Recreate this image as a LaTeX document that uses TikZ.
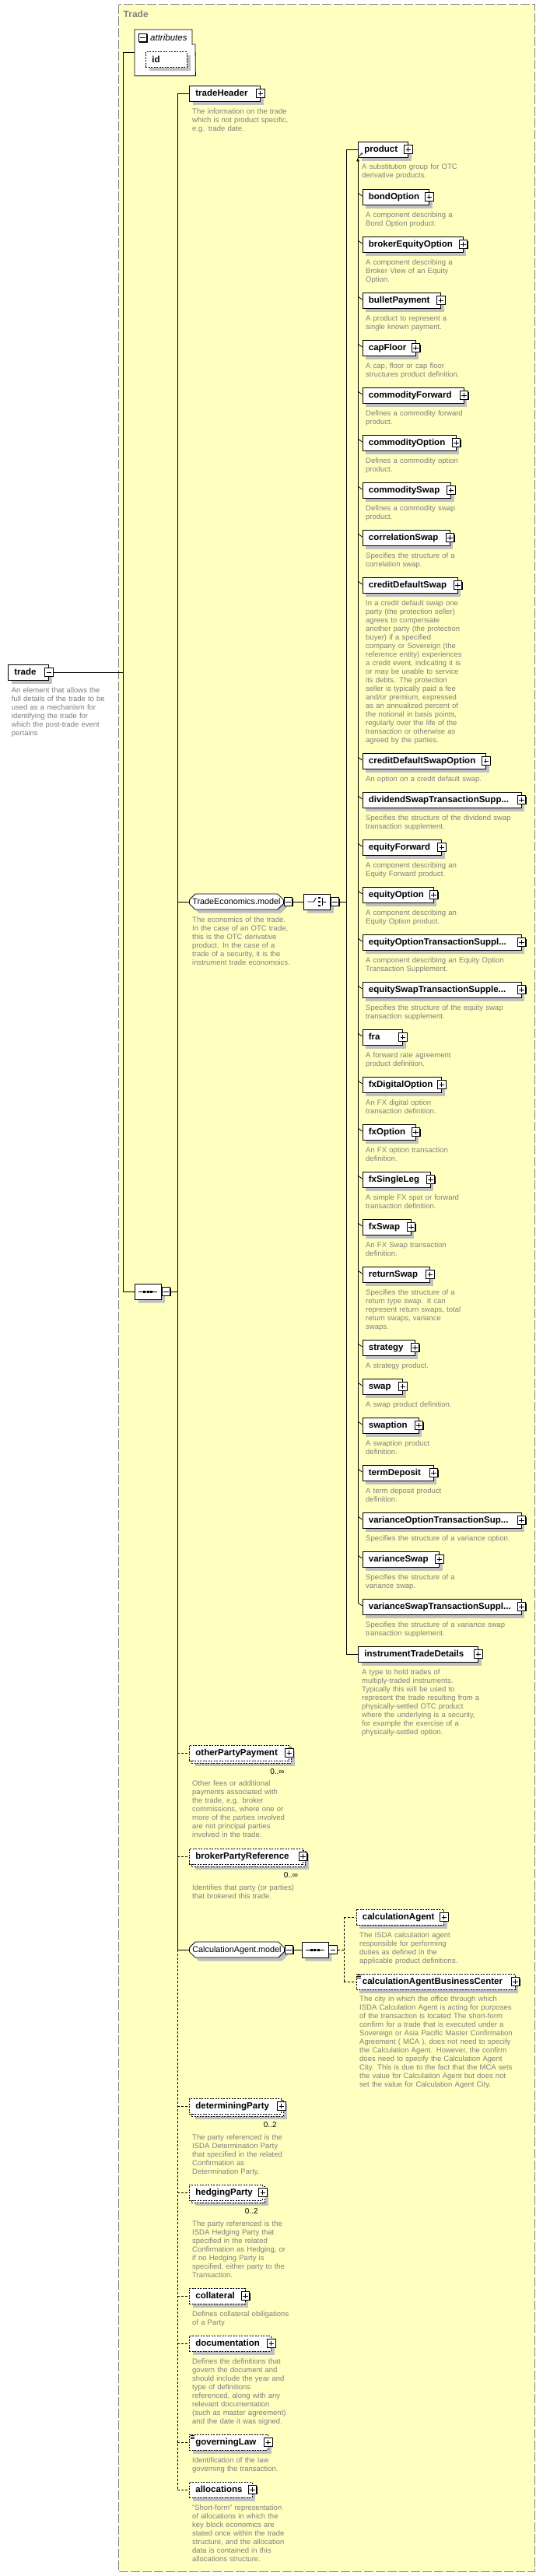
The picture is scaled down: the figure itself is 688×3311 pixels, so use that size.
\documentclass[tikz,border=0pt]{standalone}
\usepackage{fontspec}
\setmainfont{Liberation Sans}
\usetikzlibrary{shapes.misc,shadows,arrows.meta,calc}

\definecolor{framefill}{HTML}{FFFFC0}
\definecolor{framegray}{HTML}{808080}
\definecolor{descgray}{HTML}{808080}
\definecolor{shadowgray}{HTML}{C0C0C0}

\newcommand{\labfont}{\fontsize{11.5}{13}\selectfont\bfseries}
\newcommand{\descfont}{\fontsize{9.5}{11}\selectfont}
\newcommand{\grpfont}{\fontsize{10.8}{13}\selectfont}
\newcommand{\multfont}{\fontsize{10}{12}\selectfont}
\newcommand{\titfont}{\fontsize{12}{14}\selectfont\bfseries}
\newcommand{\attrfont}{\fontsize{11.5}{13}\selectfont\itshape}

\pgfdeclarelayer{frame}
\pgfdeclarelayer{back}
\pgfsetlayers{frame,back,main}

\tikzset{
  conn/.style={line width=.8pt},
  optline/.style={dash pattern=on 2pt off 1.5pt},
  optconn/.style={line width=.8pt, dash pattern=on 3pt off 2pt},
  gshadow/.style={drop shadow={shadow xshift=4.5pt, shadow yshift=-4.5pt, fill=shadowgray, opacity=1}},
  bshadow/.style={drop shadow={shadow xshift=1.2pt, shadow yshift=-1.2pt, fill=black, opacity=1}},
  box/.style={draw, fill=white, line width=.8pt, anchor=west, minimum height=20pt, inner xsep=8pt, inner ysep=0pt, text width=#1, align=left, text height=9pt, text depth=2pt, font=\labfont},
  elem/.style={box=#1, gshadow},
  optelem/.style={box=#1, optline, gshadow},
  multielem/.style={box=#1, optline},
  group/.style={chamfered rectangle, chamfered rectangle xsep=4pt, draw, fill=white, line width=.8pt, anchor=west, minimum width=#1, minimum height=20pt, inner sep=0pt, text height=8.5pt, text depth=2pt, font=\grpfont, gshadow},
  comp/.style={chamfered rectangle, chamfered rectangle xsep=6pt, draw, fill=white, line width=.8pt, anchor=west, minimum width=34pt, minimum height=20pt, inner sep=0pt, gshadow},
  btn/.style={draw, fill=white, line width=.8pt, minimum size=10.5pt, inner sep=0pt, bshadow},
  plus/.style={btn, path picture={\draw[line width=.8pt] ([xshift=2pt]path picture bounding box.west) -- ([xshift=-2pt]path picture bounding box.east) ([yshift=-2pt]path picture bounding box.north) -- ([yshift=2pt]path picture bounding box.south);}},
  minus/.style={btn, path picture={\draw[line width=.8pt] ([xshift=2pt]path picture bounding box.west) -- ([xshift=-2pt]path picture bounding box.east);}},
  desc/.style={anchor=base west, inner sep=0pt, text width=250pt, align=left, font=\descfont, text=descgray},
  mult/.style={anchor=base east, inner sep=0pt, font=\multfont},
}

\begin{document}
\begin{tikzpicture}[x=1pt, y=-1pt]
\useasboundingbox (0,0) rectangle (688,3311);

\def\MEMBER#1#2#3#4#5{%
  \node[elem=#4] (#1) at (465.5,#3) {#2};
  \node[plus] (#1B) at (#1.east) {};
  \draw[conn] (product.south west |- #1.west) ++(0,-5) -- ([yshift=1pt]#1.west);
  \node[desc] (#1D) at (470,#3+26.5) {#5};
}
\def\SEQSYM#1{%
  \draw[conn] ([xshift=-12pt]#1.center) -- ([xshift=12pt]#1.center);
  \foreach \dx in {-4.5,0,4.5}
    \fill ([xshift=\dx pt]#1.center) ++(-1.5pt,-1.5pt) rectangle ++(3pt,3pt);
}
\def\SIMPLE#1{%
  \foreach \dy in {2,3.7,5.4}
    \draw[line width=.5pt] ([shift={(1.5pt,-\dy pt)}]#1.north west) -- ++(5pt,0pt);
}

% frame
\begin{pgfonlayer}{frame}
  \fill[white] (0,0) rectangle (688,3311);
  \draw[framegray, fill=framefill, line width=.8pt, dash pattern=on 12pt off 3pt] (152.5,5.5) rectangle (687,3305);
\end{pgfonlayer}
\node[anchor=base west, inner sep=0pt, text=framegray, font=\titfont] (title) at (158.5,23) {Trade};

\coordinate (s1) at (158,0);
\coordinate (s2) at (228,0);
\coordinate (s3) at (445,0);
\coordinate (s4) at (442,0);

% root
\node[elem=36pt] (trade) at (10,864) {trade};
\node[minus] (tradeB) at (trade.east) {};
\node[desc] (tradeD) at (14.7,890.5) {An element that allows the\\full details of the trade to be\\used as a mechanism for\\identifying the trade for\\which the post-trade event\\pertains};

% attributes
\node[anchor=north west, minimum width=78pt, minimum height=59pt, inner sep=0pt] (attr) at (173,38) {};
\draw[conn, fill=white] (attr.north west) -- (247,38) -- (247,57) -- (251,57) -- (attr.south east) -- (attr.south west) -- cycle;
\node[minus] (attrB) at (183.5,48.5) {};
\node[anchor=base west, inner sep=0pt, font=\attrfont] (attrL) at (193,52.5) {attributes};
\node[optelem=37pt] (id) at (187,76.5) {id};

% main sequence
\node[comp] (mainSeq) at (173,1660) {};
\node[minus, anchor=west] (mainSeqB) at (mainSeq.east) {};
\SEQSYM{mainSeq}

\draw[conn] (tradeB.east) -- (s1 |- tradeB.east);
\draw[conn] (s1 |- attr.west) -- (attr.west);
\draw[conn] (s1 |- attr.west) -- (s1 |- mainSeq.west) -- (mainSeq.west);
\draw[conn] (mainSeqB.east) -- (s2 |- mainSeqB.east);

% children of the sequence
\node[elem=75pt] (tradeHeader) at (243,120) {tradeHeader};
\node[plus] (tradeHeaderB) at (tradeHeader.east) {};
\node[desc] (tradeHeaderD) at (247,146.5) {The information on the trade\\which is not product specific,\\e.g. trade date.};

\node[group=121pt] (tradeEcon) at (243,1159) {TradeEconomics.model};
\node[minus, anchor=west] (tradeEconB) at (tradeEcon.east) {};
\node[desc] (tradeEconD) at (247,1185.5) {The economics of the trade.\\In the case of an OTC trade,\\this is the OTC derivative\\product. In the case of a\\trade of a security, it is the\\instrument trade economoics.};

\node[comp] (choice) at (390,1159) {};
\node[minus, anchor=west] (choiceB) at (choice.east) {};
\draw[conn] ($(choice.center)+(-12,0)$) -- ($(choice.center)+(-4,0)$) -- ($(choice.center)+(-1,-5)$);
\foreach \dy in {-5,0,5}
  \fill ($(choice.center)+(3,\dy)$) ++(-1.2pt,-1.2pt) rectangle ++(2.4pt,2.4pt);
\draw[conn] ($(choice.center)+(6.5,-5)$) -- ($(choice.center)+(6.5,5)$) ($(choice.center)+(6.5,0)$) -- ($(choice.center)+(12,0)$);
\draw[conn] (tradeEconB.east) -- (choice.west);
\draw[conn] (choiceB.east) -- (s3 |- choiceB.east);

% choice
\node[elem=48pt] (product) at (460,192) {product};
\node[plus] (productB) at (product.east) {};
\draw[line width=.6pt, -{Stealth[length=2.5pt,width=2.5pt]}] ([shift={(1.5pt,1.5pt)}]product.south west) -- ++(4.5pt,4.5pt);
\node[desc] (productD) at (465,217.5) {A substitution group for OTC\\derivative products.};

\MEMBER{bondOption}{bondOption}{253}{69.5pt}{A component describing a\\Bond Option product.}
\MEMBER{brokerEquityOption}{brokerEquityOption}{314}{113pt}{A component describing a\\Broker View of an Equity\\Option.}
\MEMBER{bulletPayment}{bulletPayment}{386}{84.5pt}{A product to represent a\\single known payment.}
\MEMBER{capFloor}{capFloor}{447}{52pt}{A cap, floor or cap floor\\structures product definition.}
\MEMBER{commodityForward}{commodityForward}{508}{114pt}{Defines a commodity forward\\product.}
\MEMBER{commodityOption}{commodityOption}{569}{104pt}{Defines a commodity option\\product.}
\MEMBER{commoditySwap}{commoditySwap}{630}{97.5pt}{Defines a commodity swap\\product.}
\MEMBER{correlationSwap}{correlationSwap}{691}{96pt}{Specifies the structure of a\\correlation swap.}
\MEMBER{creditDefaultSwap}{creditDefaultSwap}{752}{106pt}{In a credit default swap one\\party (the protection seller)\\agrees to compensate\\another party (the protection\\buyer) if a specified\\company or Sovereign (the\\reference entity) experiences\\a credit event, indicating it is\\or may be unable to service\\its debts. The protection\\seller is typically paid a fee\\and/or premium, expressed\\as an annualized percent of\\the notional in basis points,\\regularly over the life of the\\transaction or otherwise as\\agreed by the parties.}
\MEMBER{creditDefaultSwapOption}{creditDefaultSwapOption}{978}{142.5pt}{An option on a credit default swap.}
\MEMBER{dividendSwapTS}{dividendSwapTransactionSupp...}{1028}{188pt}{Specifies the structure of the dividend swap\\transaction supplement.}
\MEMBER{equityForward}{equityForward}{1089}{85.5pt}{A component describing an\\Equity Forward product.}
\MEMBER{equityOption}{equityOption}{1150}{75pt}{A component describing an\\Equity Option product.}
\MEMBER{equityOptionTS}{equityOptionTransactionSuppl...}{1211}{188pt}{A component describing an Equity Option\\Transaction Supplement.}
\MEMBER{equitySwapTS}{equitySwapTransactionSupple...}{1272}{188pt}{Specifies the structure of the equity swap\\transaction supplement.}
\MEMBER{fra}{fra}{1333}{35.5pt}{A forward rate agreement\\product definition.}
\MEMBER{fxDigitalOption}{fxDigitalOption}{1394}{85.5pt}{An FX digital option\\transaction definition.}
\MEMBER{fxOption}{fxOption}{1455}{52pt}{An FX option transaction\\definition.}
\MEMBER{fxSingleLeg}{fxSingleLeg}{1516}{71pt}{A simple FX spot or forward\\transaction definition.}
\MEMBER{fxSwap}{fxSwap}{1577}{46pt}{An FX Swap transaction\\definition.}
\MEMBER{returnSwap}{returnSwap}{1638}{70.5pt}{Specifies the structure of a\\return type swap. It can\\represent return swaps, total\\return swaps, variance\\swaps.}
\MEMBER{strategy}{strategy}{1732}{51pt}{A strategy product.}
\MEMBER{swap}{swap}{1782}{35.5pt}{A swap product definition.}
\MEMBER{swaption}{swaption}{1832}{56pt}{A swaption product\\definition.}
\MEMBER{termDeposit}{termDeposit}{1893}{75pt}{A term deposit product\\definition.}
\MEMBER{varianceOptionTS}{varianceOptionTransactionSup...}{1954}{188pt}{Specifies the structure of a variance option.}
\MEMBER{varianceSwap}{varianceSwap}{2004}{82.5pt}{Specifies the structure of a\\variance swap.}
\MEMBER{varianceSwapTS}{varianceSwapTransactionSuppl...}{2065}{188pt}{Specifies the structure of a variance swap\\transaction supplement.}

\draw[conn, -{Latex[length=5pt,width=4pt]}] (product.south west |- varianceSwapTS.west) ++(0,-5) -- (product.south west);

\node[elem=138pt] (instrumentTradeDetails) at (460,2126) {instrumentTradeDetails};
\node[plus] (instrumentTradeDetailsB) at (instrumentTradeDetails.east) {};
\node[desc] (instrumentTradeDetailsD) at (465,2152.5) {A type to hold trades of\\multiply-traded instruments.\\Typically this will be used to\\represent the trade resulting from a\\physically-settled OTC product\\where the underlying is a security,\\for example the exercise of a\\physically-settled option.};

\draw[conn] (s3 |- product.west) -- (s3 |- instrumentTradeDetails.west);
\draw[conn] (s3 |- product.west) -- (product.west);
\draw[conn] (s3 |- instrumentTradeDetails.west) -- (instrumentTradeDetails.west);

% optional children
\node[multielem=112pt] (otherPartyPayment) at (243,2253) {otherPartyPayment};
\node[plus] (otherPartyPaymentB) at (otherPartyPayment.east) {};
\node[mult] (otherPartyPaymentM) at ([shift={(-6pt,-17.5pt)}]otherPartyPayment.south east) {0..∞};
\node[desc] (otherPartyPaymentD) at (247,2295.5) {Other fees or additional\\payments associated with\\the trade, e.g. broker\\commissions, where one or\\more of the parties involved\\are not principal parties\\involved in the trade.};

\node[multielem=129.5pt] (brokerPartyReference) at (243,2386) {brokerPartyReference};
\node[plus] (brokerPartyReferenceB) at (brokerPartyReference.east) {};
\node[mult] (brokerPartyReferenceM) at ([shift={(-6pt,-17.5pt)}]brokerPartyReference.south east) {0..∞};
\node[desc] (brokerPartyReferenceD) at (247,2429.5) {Identifies that party (or parties)\\that brokered this trade.};

\node[group=121pt] (calcAgentModel) at (243,2506) {CalculationAgent.model};
\node[minus, anchor=west] (calcAgentModelB) at (calcAgentModel.east) {};
\node[comp] (calcSeq) at (387.5,2506) {};
\node[minus, anchor=west] (calcSeqB) at (calcSeq.east) {};
\SEQSYM{calcSeq}
\draw[conn] (calcAgentModelB.east) -- (calcSeq.west);

\node[optelem=96.5pt] (calculationAgent) at (457.5,2464) {calculationAgent};
\node[plus] (calculationAgentB) at (calculationAgent.east) {};
\node[desc] (calculationAgentD) at (462,2490.5) {The ISDA calculation agent\\responsible for performing\\duties as defined in the\\applicable product definitions.};

\node[optelem=188pt] (calcAgentBC) at (457.5,2547) {calculationAgentBusinessCenter};
\node[plus] (calcAgentBCB) at (calcAgentBC.east) {};
\SIMPLE{calcAgentBC}
\node[desc] (calcAgentBCD) at (462,2572.5) {The city in which the office through which\\ISDA Calculation Agent is acting for purposes\\of the transaction is located The short-form\\confirm for a trade that is executed under a\\Sovereign or Asia Pacific Master Confirmation\\Agreement ( MCA ), does not need to specify\\the Calculation Agent. However, the confirm\\does need to specify the Calculation Agent\\City. This is due to the fact that the MCA sets\\the value for Calculation Agent but does not\\set the value for Calculation Agent City.};

\draw[optconn] (calcSeqB.east) -- (s4 |- calcSeqB.east);
\draw[optconn] (s4 |- calculationAgent.west) -- (s4 |- calcAgentBC.west);
\draw[optconn] (s4 |- calculationAgent.west) -- (calculationAgent.west);
\draw[optconn] (s4 |- calcAgentBC.west) -- (calcAgentBC.west);

\node[multielem=102pt] (determiningParty) at (243,2707) {determiningParty};
\node[plus] (determiningPartyB) at (determiningParty.east) {};
\node[mult] (determiningPartyM) at ([shift={(-6pt,-17.5pt)}]determiningParty.south east) {0..2};
\node[desc] (determiningPartyD) at (247,2750.5) {The party referenced is the\\ISDA Determination Party\\that specified in the related\\Confirmation as\\Determination Party.};

\node[multielem=78pt] (hedgingParty) at (243,2818) {hedgingParty};
\node[plus] (hedgingPartyB) at (hedgingParty.east) {};
\node[mult] (hedgingPartyM) at ([shift={(-6pt,-17.5pt)}]hedgingParty.south east) {0..2};
\node[desc] (hedgingPartyD) at (247,2861.5) {The party referenced is the\\ISDA Hedging Party that\\specified in the related\\Confirmation as Hedging, or\\if no Hedging Party is\\specified, either party to the\\Transaction.};

\node[optelem=55.5pt] (collateral) at (243,2951) {collateral};
\node[plus] (collateralB) at (collateral.east) {};
\node[desc] (collateralD) at (247,2977.5) {Defines collateral obiligations\\of a Party};

\node[optelem=89pt] (documentation) at (243,3012) {documentation};
\node[plus] (documentationB) at (documentation.east) {};
\node[desc] (documentationD) at (247,3038.5) {Defines the definitions that\\govern the document and\\should include the year and\\type of definitions\\referenced, along with any\\relevant documentation\\(such as master agreement)\\and the date it was signed.};

\node[optelem=85pt] (governingLaw) at (243,3139) {governingLaw};
\node[plus] (governingLawB) at (governingLaw.east) {};
\SIMPLE{governingLaw}
\node[desc] (governingLawD) at (247,3165.5) {Identification of the law\\governing the transaction.};

\node[optelem=64.5pt] (allocations) at (243,3200) {allocations};
\node[plus] (allocationsB) at (allocations.east) {};
\node[desc] (allocationsD) at (247,3226.5) {"Short-form" representation\\of allocations in which the\\key block economics are\\stated once within the trade\\structure, and the allocation\\data is contained in this\\allocations structure.};

% stacked boxes for repeating elements
\begin{pgfonlayer}{back}
  \foreach \nm in {otherPartyPayment,brokerPartyReference,determiningParty,hedgingParty}
    \draw[optline, line width=.8pt, fill=white, gshadow] ([shift={(3pt,-2.5pt)}]\nm.north west) rectangle ([shift={(3pt,-2.5pt)}]\nm.south east);
\end{pgfonlayer}

% spine of the sequence
\draw[conn] (s2 |- tradeHeader.west) -- (s2 |- calcAgentModel.west);
\draw[optconn] (s2 |- calcAgentModel.west) -- (s2 |- allocations.west);
\foreach \nm in {tradeHeader,tradeEcon,calcAgentModel}
  \draw[conn] (s2 |- \nm.west) -- (\nm.west);
\foreach \nm in {otherPartyPayment,brokerPartyReference,determiningParty,hedgingParty,collateral,documentation,governingLaw,allocations}
  \draw[optconn] (s2 |- \nm.west) -- (\nm.west);

\end{tikzpicture}
\end{document}
